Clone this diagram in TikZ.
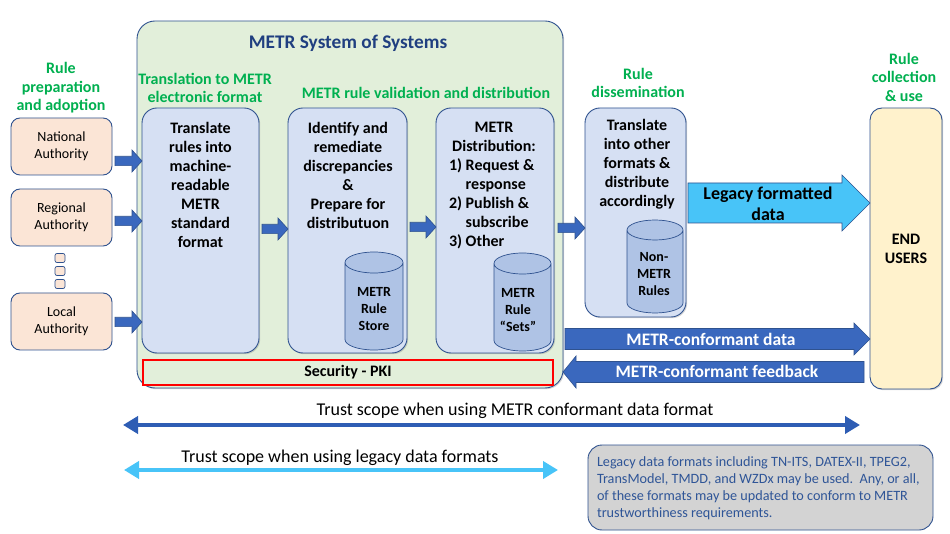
\documentclass[tikz,border=0pt]{standalone}
\usepackage{fontspec}
\setmainfont{Carlito}
\usetikzlibrary{calc,arrows.meta,shadows}
\definecolor{bord}{HTML}{2F528F}
\definecolor{gbg}{HTML}{E2EFDA}
\definecolor{gtext}{HTML}{00B050}
\definecolor{navy}{HTML}{203F80}
\definecolor{bfill}{HTML}{D6E0F3}
\definecolor{cfill}{HTML}{AFC3E5}
\definecolor{peach}{HTML}{FBE5D6}
\definecolor{cream}{HTML}{FFF2CC}
\definecolor{notebg}{HTML}{D3D3D3}
\definecolor{notetext}{HTML}{2F5597}
\definecolor{arrowblue}{HTML}{3A68BE}
\definecolor{lightarr}{HTML}{48C4F8}
\definecolor{trustdark}{HTML}{2E5DB4}
\newcommand{\cylshape}[2]{%
  \path[cylstyle] let \p1=(#1.north west), \p2=(#1.south east), \n1={(\x2-\x1)/2} in
    (\x1,\y1-#2) -- (\x1,\y2+#2) arc[start angle=180, end angle=360, x radius={\n1*1pt}, y radius=#2]
    -- (\x2,\y1-#2) arc[start angle=0, end angle=180, x radius={\n1*1pt}, y radius=#2] -- cycle
    (\x1,\y1-#2) arc[start angle=180, end angle=540, x radius={\n1*1pt}, y radius=#2];}
\tikzset{
  every node/.style={inner sep=0pt, outer sep=0pt},
  softshadow/.style={drop shadow={shadow xshift=1.2pt, shadow yshift=-1.2pt, opacity=0.25, fill=black!60}},
  bigbox/.style={draw=bord, line width=0.9pt, fill=gbg, rounded corners=18pt, softshadow},
  bluebox/.style={draw=bord, line width=0.9pt, fill=bfill, rounded corners=15pt, softshadow},
  endbox/.style={draw=bord, line width=0.9pt, fill=cream, rounded corners=12pt, softshadow, font=\fontsize{16}{19}\selectfont\bfseries, align=center},
  authbox/.style={draw=bord, line width=0.9pt, fill=peach, rounded corners=9pt, minimum width=101pt, minimum height=57pt, font=\fontsize{14}{17}\selectfont, align=center},
  sqbox/.style={draw=bord, line width=0.7pt, fill=peach, rounded corners=2pt, minimum width=10pt, minimum height=9pt},
  secbox/.style={draw=red, line width=1.6pt, fill=gbg, font=\fontsize{16}{19}\selectfont\bfseries},
  notebox/.style={draw=bord, line width=0.9pt, fill=notebg, rounded corners=14pt},
  notetxt/.style={text=notetext, font=\fontsize{14.2}{17}\selectfont, align=left},
  cylnode/.style={},
  cylstyle/.style={draw=bord, line width=0.7pt, fill=cfill},
  cyltxt/.style={font=\fontsize{14}{17}\selectfont\bfseries, align=center},
  boxtxt/.style={font=\fontsize{16}{19}\selectfont\bfseries, align=center},
  titletxt/.style={text=navy, font=\fontsize{19.3}{22}\selectfont\bfseries},
  greenlbl/.style={text=gtext, font=\fontsize{16}{18.5}\selectfont\bfseries, align=center},
  arrtxt/.style={font=\fontsize{18}{21}\selectfont\bfseries, align=center},
  warrtxt/.style={text=white, font=\fontsize{17.5}{21}\selectfont\bfseries},
  trusttxt/.style={font=\fontsize{18}{21}\selectfont},
  harrow/.style n args={3}{to path={
    let \p1=(\tikztostart), \p2=(\tikztotarget), \n1={ifthenelse(\x2>\x1,1,-1)} in
    (\x1,\y1+#1) -- ({\x2-(\n1)*#3},\y1+#1) -- ({\x2-(\n1)*#3},\y1+#2) -- (\x2,\y1)
    -- ({\x2-(\n1)*#3},\y1-#2) -- ({\x2-(\n1)*#3},\y1-#1) -- (\x1,\y1-#1) -- cycle}},
  blockarr/.style={fill=arrowblue, draw=bord, line width=0.6pt},
  smallarr/.style={blockarr, harrow={4.7pt}{11pt}{10pt}},
  trustm/.style={draw=trustdark, line width=4pt, {Triangle[length=15pt,width=17pt]}-{Triangle[length=15pt,width=17pt]}},
  trustl/.style={draw=lightarr, line width=4pt, {Triangle[length=15pt,width=17pt]}-{Triangle[length=15pt,width=17pt]}},
}
\begin{document}
\begin{tikzpicture}[x=1pt,y=1pt]
\path[use as bounding box, fill=white] (0,0) rectangle (950,-534);

% system of systems
\node[bigbox, minimum width=426pt, minimum height=367pt] (sys) at (350,-204.5) {};
\node[titletxt] (title) at (348,-43) {METR System of Systems};
\node[greenlbl] (lbltrans) at (205,-88) {Translation to METR\\electronic format};
\node[greenlbl] (lblval) at (426,-93) {METR rule validation and distribution};
\node[greenlbl] (lblprep) at (61,-88) {Rule\\preparation\\and adoption};
\node[greenlbl] (lbldiss) at (638,-83) {Rule\\dissemination};
\node[greenlbl] (lblcoll) at (904,-77) {Rule\\collection\\\& use};

% inner boxes
\node[bluebox, minimum width=117pt, minimum height=245pt] (b1) at (200.5,-230.5) {};
\node[boxtxt] (b1t) at (200.5,-184.5) {Translate\\rules into\\machine-\\readable\\METR\\standard\\format};
\node[bluebox, minimum width=119pt, minimum height=245pt] (b2) at (347.5,-230.5) {};
\node[boxtxt] (b2t) at (348,-175) {Identify and\\remediate\\discrepancies\\\&\\Prepare for\\distributuon};
\node[bluebox, minimum width=118pt, minimum height=245pt] (b3) at (495,-230.5) {};
\node[boxtxt] (b3ta) at (494,-136.5) {METR\\Distribution:};
\node[boxtxt, align=left, anchor=west] (b3tb) at (449,-203.5) {1) Request \&\\\hphantom{1) }response\\2) Publish \&\\\hphantom{2) }subscribe\\3) Other};

% cylinders
\node[cylnode, minimum width=58pt, minimum height=98pt] (c1) at (374,-301) {};
\cylshape{c1}{10.5pt}
\node[cyltxt] (c1t) at (374,-309) {METR\\Rule\\Store};
\node[cylnode, minimum width=57pt, minimum height=98pt] (c2) at (522.5,-302) {};
\cylshape{c2}{10.5pt}
\node[cyltxt] (c2t) at (518,-310) {METR\\Rule\\“Sets”};

% dissemination
\node[bluebox, minimum width=101pt, minimum height=209pt] (diss) at (635.5,-212.5) {};
\node[boxtxt] (disst) at (637,-164.5) {Translate\\into other\\formats \&\\distribute\\accordingly};
\node[cylnode, minimum width=56pt, minimum height=93pt] (c3) at (655,-266.5) {};
\cylshape{c3}{10pt}
\node[cyltxt] (c3t) at (654,-274) {Non-\\METR\\Rules};

% end users
\node[endbox, minimum width=72pt, minimum height=281pt] (users) at (906,-248.5) {END\\USERS};

% security
\node[secbox, minimum width=410pt, minimum height=25pt] (pki) at (348,-372.5) {Security - PKI};

% authorities
\node[authbox] (nat) at (61.5,-146.5) {National\\Authority};
\node[authbox] (reg) at (61.5,-217.5) {Regional\\Authority};
\node[authbox] (loc) at (61.5,-321.5) {Local\\Authority};
\node[sqbox] (sq1) at (60,-258) {};
\node[sqbox] (sq2) at (60,-271) {};
\node[sqbox] (sq3) at (60,-284) {};

% small block arrows
\coordinate (natout) at ([xshift=3pt,yshift=-14.5pt]nat.east);
\coordinate (regout) at ([xshift=3pt,yshift=-3.5pt]reg.east);
\coordinate (locout) at ([xshift=3pt,yshift=-0.5pt]loc.east);
\draw[smallarr] (natout) to (natout -| b1.west);
\draw[smallarr] (regout) to (regout -| b1.west);
\draw[smallarr] (locout) to (locout -| b1.west);
\coordinate (b1out) at ([xshift=3pt,yshift=1.5pt]b1.east);
\coordinate (b2out) at ([xshift=3pt,yshift=3.5pt]b2.east);
\coordinate (b3out) at ([xshift=4pt,yshift=2.5pt]b3.east);
\draw[smallarr] (b1out) to (b1out -| b2.west);
\draw[smallarr] (b2out) to (b2out -| b3.west);
\draw[smallarr] (b3out) to (b3out -| diss.west);

% legacy formatted data
\coordinate (legst) at ([xshift=2pt,yshift=9.5pt]diss.east);
\draw[harrow={20pt}{28pt}{28pt}, fill=lightarr, draw=bord, line width=0.6pt] (legst) to (legst -| users.west);
\node[arrtxt] (legt) at (768,-203.5) {Legacy formatted\\data};

% METR-conformant data / feedback
\coordinate (mdst) at ([xshift=2pt,yshift=-134.5pt]sys.east);
\draw[blockarr, harrow={10.5pt}{16pt}{16pt}] (mdst) to (mdst -| users.west);
\node[warrtxt] (mdt) at (711,-339) {METR-conformant data};
\coordinate (fbst) at ([xshift=-6pt,yshift=-123.5pt]users.west);
\draw[blockarr, harrow={10.5pt}{16pt}{13pt}] (fbst) to (fbst -| sys.east);
\node[warrtxt] (fbt) at (717,-371) {METR-conformant feedback};

% trust scopes
\coordinate (tm1) at (123,-425);
\coordinate (tm2) at (860,-425);
\draw[trustm] (tm1) -- (tm2);
\node[trusttxt] (tmt) at (515,-411) {Trust scope when using METR conformant data format};
\coordinate (tl1) at (124,-470);
\coordinate (tl2) at (558,-470);
\draw[trustl] (tl1) -- (tl2);
\node[trusttxt] (tlt) at (340,-458) {Trust scope when using legacy data formats};

% note
\node[notebox, minimum width=345pt, minimum height=85pt] (note) at (760.5,-487.5) {};
\node[notetxt, anchor=west] (notet) at (597,-488) {Legacy data formats including TN-ITS, DATEX-II, TPEG2,\\TransModel, TMDD, and WZDx may be used.\ \ Any, or all,\\of these formats may be updated to conform to METR\\trustworthiness requirements.};
\end{tikzpicture}
\end{document}
